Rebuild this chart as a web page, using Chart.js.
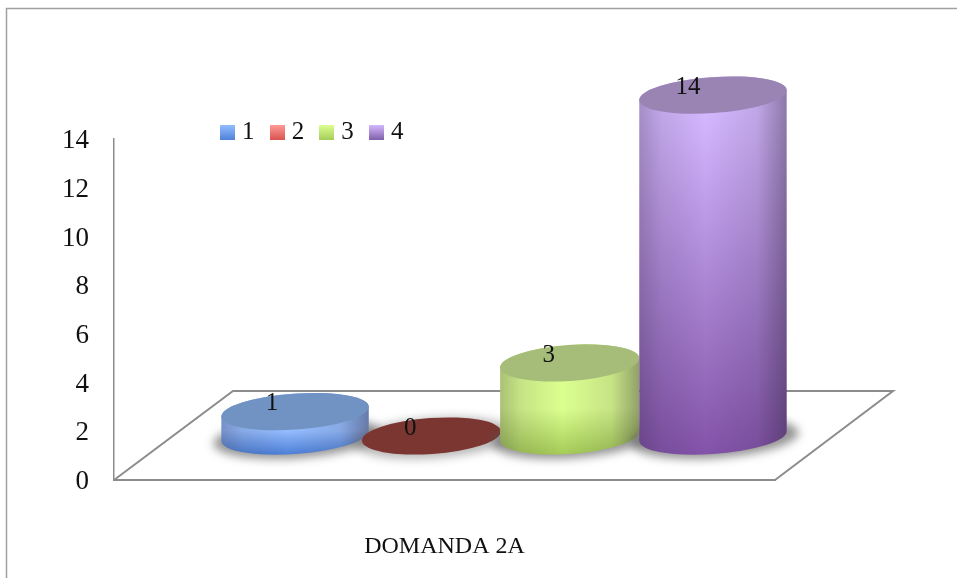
<!DOCTYPE html>
<html><head><meta charset="utf-8">
<style>html,body{margin:0;padding:0;background:#fff}canvas{display:block}</style>
<script src="https://cdn.jsdelivr.net/npm/chart.js@4"></script>
</head><body><canvas id="c" width="957" height="578"></canvas>
<script>
const categories = ['DOMANDA 2A'];
const seriesNames = ['1','2','3','4'];
const seriesValues = [[1],[0],[3],[14]];
const baseColors = ['#4f81d6','#c0504d','#9bbb59','#8064a2'];
const lightColors = ['#95bdff','#ff9a96','#dcff90','#d4b8ff'];
const darkColors = ['#4e81d8','#d9534e','#a6cc58','#8353aa'];
const topColors = ['#7193c3','#7c3632','#a5bd78','#9a84b4'];
const lightStop = [0.45,0.5,0.5,0.05];
const widthFactor = [1.06,1,1,1.06];
const nudgeX = [0,-3,-4,0];
const labelNudge = [-23,-21,-21,-25];
const FONT = '"Liberation Serif", serif';
const AXIS = '#8c8c8c';
const DX = 119, DY = 89, BAR_DY = 88, TILT = -4*Math.PI/180, RY = 18;
const LEGEND_SHIFT = 16;

function legendSwatch(i){
  const s=document.createElement('canvas'); s.width=15; s.height=15;
  const g=s.getContext('2d'), lg=g.createLinearGradient(0,0,0,15);
  lg.addColorStop(0,lightColors[i]); lg.addColorStop(1,i===3?'#8060a8':darkColors[i]);
  g.fillStyle=lg; g.fillRect(0,0,15,15); return s;
}
function cylinder(ctx,i,el){
  const cx=el.x+DX/2+nudgeX[i], rx=el.width/2*widthFactor[i];
  const yb=el.base-BAR_DY/2, yt=el.y-BAR_DY/2;
  const t0=Math.atan(-(RY/rx)*Math.tan(TILT));
  ctx.save();
  // cast shadow
  ctx.save();
  ctx.filter='blur(5px)';
  ctx.fillStyle=i===1?'rgba(110,110,110,0.5)':'rgba(80,80,80,0.62)';
  ctx.beginPath(); ctx.ellipse(cx+2,yb+2,rx+10,RY+2,TILT,0,Math.PI*2); ctx.fill();
  ctx.restore();
  if(yb-yt>0.5){
    const path=new Path2D();
    path.ellipse(cx,yb,rx,RY,TILT,t0,t0+Math.PI);
    path.ellipse(cx,yt,rx,RY,TILT,t0+Math.PI,t0+2*Math.PI);
    path.closePath();
    const v=ctx.createLinearGradient(0,yt,0,yb+RY);
    v.addColorStop(0,lightColors[i]); v.addColorStop(lightStop[i],lightColors[i]); v.addColorStop(1,darkColors[i]);
    ctx.fillStyle=v; ctx.fill(path);
    const h=ctx.createLinearGradient(cx-rx,0,cx+rx,0);
    h.addColorStop(0,'rgba(40,30,50,0.28)');
    h.addColorStop(0.15,'rgba(40,30,50,0.12)');
    h.addColorStop(0.45,'rgba(40,30,50,0)');
    h.addColorStop(0.8,'rgba(40,30,50,0.12)');
    h.addColorStop(1,'rgba(40,30,50,0.42)');
    ctx.fillStyle=h; ctx.fill(path);
  }
  ctx.fillStyle=topColors[i];
  ctx.beginPath(); ctx.ellipse(cx,yt,rx,RY,TILT,0,Math.PI*2); ctx.fill();
  ctx.fillStyle='#111'; ctx.font='25px '+FONT; ctx.textAlign='center'; ctx.textBaseline='middle';
  ctx.fillText(String(seriesValues[i][0]),cx+labelNudge[i],yt-8);
  ctx.restore();
}
const cylinders={
  id:'cylinders',
  afterLayout(chart){ const l=chart.legend; l.left=205; l.top+=LEGEND_SHIFT; l.bottom+=LEGEND_SHIFT; },
  beforeDraw(chart){
    const c=chart.ctx; c.save();
    c.strokeStyle='#a0a0a0'; c.lineWidth=1.5;
    c.beginPath(); c.moveTo(6.5,578); c.lineTo(6.5,8.5); c.lineTo(957,8.5); c.stroke();
    c.restore();
  },
  beforeDatasetsDraw(chart){
    const c=chart.ctx,x=chart.scales.x,y=chart.scales.y;
    const L=x.left,R=x.right,B=y.bottom;
    c.save(); c.strokeStyle=AXIS; c.lineWidth=2;
    c.beginPath(); c.moveTo(L,B); c.lineTo(L+DX,B-DY); c.lineTo(R+DX-1,B-DY); c.lineTo(R,B); c.stroke();
    c.restore();
    seriesValues.forEach((_,i)=>cylinder(c,i,chart.getDatasetMeta(i).data[0]));
  },
  beforeDatasetDraw(){ return false; }
};
new Chart(document.getElementById('c'),{
  type:'bar',
  plugins:[cylinders],
  data:{labels:categories,datasets:seriesNames.map((n,i)=>({label:n,data:seriesValues[i],backgroundColor:baseColors[i],barPercentage:1,categoryPercentage:0.843}))},
  options:{
    responsive:false,animation:false,
    layout:{padding:{left:0,right:182,top:83.5,bottom:0}},
    plugins:{
      tooltip:{enabled:false},
      legend:{display:true,position:'top',align:'start',
        labels:{padding:20.6,usePointStyle:true,pointStyleWidth:4,color:'#111',font:{family:FONT,size:25},
          generateLabels(chart){return chart.data.datasets.map((d,i)=>({text:d.label,pointStyle:legendSwatch(i),datasetIndex:i,fontColor:'#111',hidden:false,lineWidth:0}));}}
      }
    },
    scales:{
      x:{grid:{display:false,drawTicks:false},border:{display:true,color:AXIS,width:2},
        afterFit(s){s.height=98;},
        ticks:{color:'#111',padding:52,font:{family:FONT,size:24},maxRotation:0}},
      y:{min:0,max:14,grid:{display:false,drawTicks:false},border:{display:true,color:AXIS,width:1.5},
        afterFit(s){s.width=114;},
        ticks:{stepSize:2,color:'#111',padding:25,labelOffset:2,font:{family:FONT,size:27}}}
    }
  }
});
</script></body></html>
